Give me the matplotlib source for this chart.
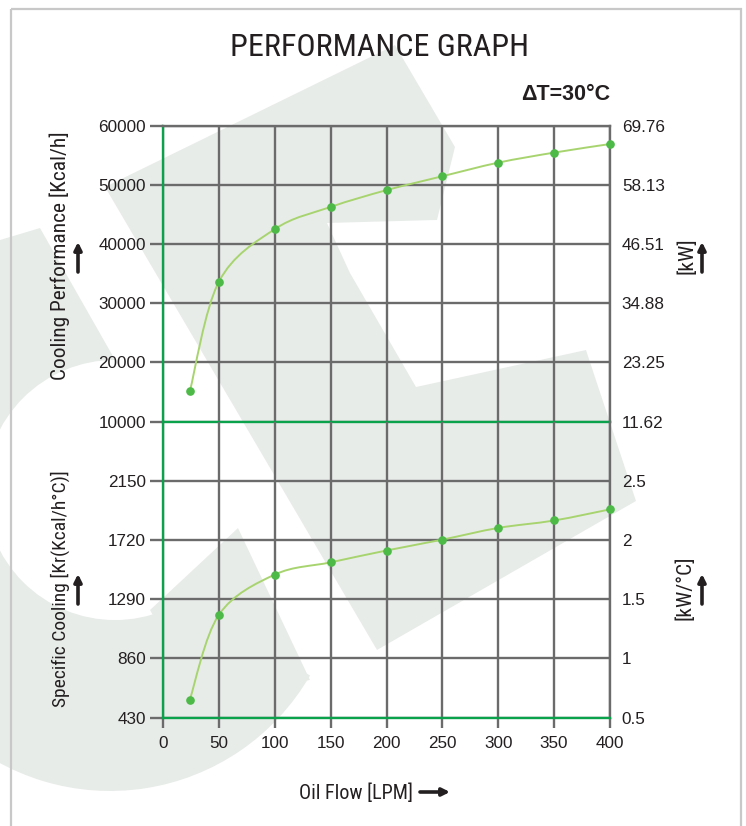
import numpy as np
import matplotlib
matplotlib.use("Agg")
import matplotlib.pyplot as plt
from matplotlib.path import Path
from matplotlib.patches import PathPatch, Polygon, Rectangle, Circle, Wedge

# ── data ────────────────────────────────────────────────────────────────────
oil_flow = [24, 50, 100, 150, 200, 250, 300, 350, 400]            # LPM
cooling_kcal = [15100, 33650, 42550, 46300, 49150, 51500, 53800, 55500, 56950]
specific_kcal = [560, 1176, 1468, 1557, 1643, 1722, 1807, 1861, 1942]

x_ticks = [0, 50, 100, 150, 200, 250, 300, 350, 400]
cool_ticks = [10000, 20000, 30000, 40000, 50000, 60000]
spec_ticks = [430, 860, 1290, 1720, 2150]
kw_labels = ["11.62", "23.25", "34.88", "46.51", "58.13", "69.76"]
kwc_labels = ["0.5", "1", "1.5", "2", "2.5"]
KCAL_PER_KW = 860

GREEN = '#0aa34b'
GRID = '#6b6b6b'
LINE = '#a8d46f'
DOT = '#4dba48'
TXT = '#231f20'
WM = '#e8ece9'

plt.rcParams['font.family'] = ['Liberation Sans', 'DejaVu Sans']
NARROW = ['Roboto Condensed', 'Archivo Narrow', 'Liberation Sans']

W, H = 746, 826
fig = plt.figure(figsize=(W / 100, H / 100), dpi=100)

# background layer in pixel coords (watermark, frame, labels, arrows)
bg = fig.add_axes([0, 0, 1, 1], zorder=-1)
bg.set_xlim(0, W); bg.set_ylim(H, 0); bg.axis('off')

# faint logo watermark
bg.add_patch(Wedge((110, 560), 231, 30, 235, facecolor=WM, edgecolor='none'))
bg.add_patch(Polygon([(0, 240), (40, 228), (155, 430), (0, 560)],
                     facecolor=WM, edgecolor='none'))
bg.add_patch(Circle((115, 490), 130, facecolor='white', edgecolor='none'))
bg.add_patch(Polygon([(238, 528), (310, 680), (200, 700), (150, 610)],
                     facecolor=WM, edgecolor='none'))
bg.add_patch(Polygon([(105, 187), (395, 45), (455, 147), (437, 220), (327, 223),
                      (350, 273), (416, 387), (586, 350), (636, 501), (377, 650)],
                     facecolor=WM, edgecolor='none'))

bg.add_patch(Rectangle((11, 9), 730, 830, fill=False, edgecolor='#c8c8c8', lw=1.6))

# ── axes ────────────────────────────────────────────────────────────────────
L, R = 163 / W, 610 / W
ax1 = fig.add_axes([L, 1 - 421.5 / H, R - L, (421.5 - 126) / H])
ax2 = fig.add_axes([L, 1 - 717.5 / H, R - L, (717.5 - 421.5) / H])


def smooth_path(x, y):
    pts = np.column_stack([x, y]).astype(float)
    n = len(pts)
    verts, codes = [pts[0]], [Path.MOVETO]
    for i in range(n - 1):
        p0, p1 = pts[max(i - 1, 0)], pts[i]
        p2, p3 = pts[i + 1], pts[min(i + 2, n - 1)]
        verts += [p1 + (p2 - p0) / 6, p2 - (p3 - p1) / 6, p2]
        codes += [Path.CURVE4] * 3
    return Path(verts, codes)


for ax, yv, yt, lim in [(ax1, cooling_kcal, cool_ticks, (10000, 60000)),
                        (ax2, specific_kcal, spec_ticks, (430, 2580))]:
    ax.set_facecolor('none')
    ax.set_xlim(0, 400)
    ax.set_ylim(*lim)
    ax.set_xticks(x_ticks)
    ax.set_yticks(yt)
    ax.set_axisbelow(True)
    ax.grid(True, color=GRID, lw=1.7)
    for s in ax.spines.values():
        s.set_linewidth(1.7)
        s.set_color(GRID)
    ax.spines['left'].set_color(GREEN)
    ax.spines['bottom'].set_color(GREEN)
    ax.tick_params(axis='y', length=9.4, width=1.7, color=GRID, pad=3,
                   labelsize=12.3, labelcolor=TXT)
    ax.yaxis.get_major_ticks()[0].tick1line.set_color(GREEN)
    ax.add_patch(PathPatch(smooth_path(oil_flow, yv), fill=False,
                           edgecolor=LINE, lw=1.4, zorder=3))
    ax.plot(oil_flow, yv, 'o', color=DOT, ms=5.2, zorder=4, clip_on=False)

ax2.spines['top'].set_visible(False)
ax1.tick_params(axis='x', bottom=False, labelbottom=False)
ax2.tick_params(axis='x', length=7.5, width=1.7, color=GRID, pad=5.5,
                labelsize=12.3, labelcolor=TXT)
ax2.xaxis.get_major_ticks()[0].tick1line.set_color(GREEN)

# right-hand kW scales
for ax, lim, labels in [(ax1, (10000, 60000), kw_labels), (ax2, (430, 2580), kwc_labels)]:
    tw = ax.twinx()
    tw.set_ylim(lim[0] / KCAL_PER_KW, lim[1] / KCAL_PER_KW)
    tw.set_yticks([float(v) for v in labels])
    tw.set_yticklabels(labels)
    for s in tw.spines.values():
        s.set_visible(False)
    tw.tick_params(axis='y', length=0, pad=8.5, labelsize=12.3, labelcolor=TXT)

# ── texts ───────────────────────────────────────────────────────────────────
bg.text(380, 48, 'PERFORMANCE GRAPH', fontsize=23, family=NARROW, color=TXT,
        ha='center', va='center')
bg.text(610, 95, 'ΔT=30°C', fontsize=15.5, fontweight='bold', color=TXT,
        ha='right', va='center')
bg.text(60, 256, 'Cooling Performance [Kcal/h]', rotation=90, fontsize=15.4,
        family=NARROW, color=TXT, ha='center', va='center')
bg.text(60, 589, 'Specific Cooling [Kr(Kcal/h°C)]', rotation=90, fontsize=14,
        family=NARROW, color=TXT, ha='center', va='center')
bg.text(687, 256, '[kW]', rotation=90, fontsize=15.4, family=NARROW, color=TXT,
        ha='center', va='center')
bg.text(685, 588, '[kW/°C]', rotation=90, fontsize=15.4, family=NARROW, color=TXT,
        ha='center', va='center')
bg.text(356, 793, 'Oil Flow [LPM]', fontsize=14.5, family=NARROW, color=TXT,
        ha='center', va='center')

arrow = dict(arrowstyle='-|>', lw=2.6, color=TXT, mutation_scale=11,
             shrinkA=0, shrinkB=0)
for (x0, y0, x1, y1) in [(78, 272, 78, 242), (78, 604, 78, 574),
                         (702, 272, 702, 242), (702, 604, 702, 574),
                         (420, 792, 450, 792)]:
    bg.annotate('', xy=(x1, y1), xytext=(x0, y0), arrowprops=arrow)

fig.savefig('out.png', dpi=100)
